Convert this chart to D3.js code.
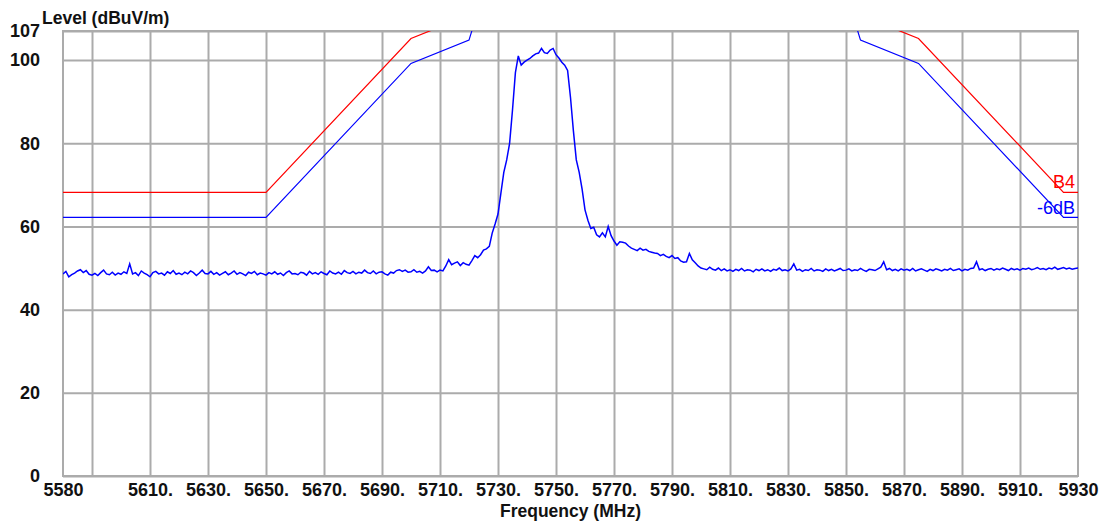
<html>
<head>
<meta charset="utf-8">
<script src="https://d3js.org/d3.v7.min.js"></script>
<style>
    body { margin: 0; background: #fff; }
    text { font-family: "Liberation Sans", Arial, sans-serif; }
    .grid line { stroke: #ababab; stroke-width: 2; }
    .grid .domain { display: none; }
    .lbl text { font-size: 18px; font-weight: bold; fill: #111; }
    .lbl .domain, .lbl line { display: none; }
</style>
</head>
<body>
<div id="chart"></div>
<script>
// measured trace, one value per MHz from 5580 to 5930
var traceStart = 5580;
var traceLevel = [
    48.6, 49.2, 47.9, 48.4, 48.8, 49.3, 49.6, 48.9, 49.4, 48.5,
    48.3, 48.7, 48.2, 48.9, 49.5, 48.6, 48.4, 49.0, 48.3, 48.8,
    48.5, 49.1, 48.7, 51.0, 48.6, 48.9, 48.2, 49.3, 48.8, 48.4,
    47.9, 48.9, 49.2, 48.6, 48.8, 48.3, 49.1, 48.7, 49.4, 48.5,
    48.8, 48.4, 49.0, 48.6, 49.3, 48.9, 48.2, 48.8, 49.5, 48.7,
    48.6, 49.2, 48.5, 48.9, 48.3, 48.7, 49.1, 48.4, 48.8, 49.3,
    48.5, 48.9, 48.6, 48.2, 49.0, 48.7, 49.2, 48.4, 48.8, 48.6,
    48.3, 48.9, 48.6, 49.1, 48.5, 48.8, 48.2, 48.9, 49.3, 48.6,
    48.7, 48.4, 49.0, 48.8, 48.3, 49.2, 48.6, 48.9, 48.5, 49.1,
    48.7, 48.4, 49.3, 48.8, 48.6, 49.0, 48.5, 49.4, 48.9, 48.7,
    49.2, 48.6, 49.0, 48.8, 49.5, 48.9, 48.7, 49.3, 48.6, 49.0,
    49.1, 48.6, 48.3, 49.0, 48.8, 49.4, 49.6, 49.2, 49.5, 49.0,
    49.1, 49.6, 49.0, 49.2, 48.8, 49.3, 50.3, 49.4, 49.5, 49.1,
    49.5, 49.3, 50.5, 52.0, 50.8, 51.2, 51.5, 50.6, 51.3, 50.9,
    50.7, 51.8, 53.0, 52.5, 53.2, 54.3, 54.6, 55.2, 58.4, 60.6,
    63.0, 68.0, 73.0, 76.0, 80.0, 88.0, 97.0, 101.0, 98.8, 99.5,
    100.0, 100.4, 101.0, 101.5, 101.7, 102.8, 101.8, 101.6, 102.4, 102.8,
    101.3, 100.5, 99.5, 98.8, 97.5, 91.0, 83.0, 76.0, 73.0, 69.0,
    64.0, 61.5, 59.5, 59.8, 58.0, 57.5, 58.5, 57.5, 60.0, 57.8,
    56.5, 55.5, 56.3, 56.2, 56.0, 55.3, 54.8, 54.5, 54.2, 54.8,
    54.3, 54.5, 54.0, 53.8, 53.6, 53.5, 53.0, 53.3, 52.8, 52.5,
    53.0, 52.3, 52.5, 51.7, 51.4, 51.5, 53.5, 52.0, 51.3, 50.5,
    50.0, 49.8, 49.6, 50.2, 49.7, 49.5, 50.0, 49.4, 49.8, 49.3,
    49.6, 49.2, 49.7, 49.4, 49.9, 49.3, 49.6, 49.5, 49.1, 49.7,
    49.4, 49.8, 49.3, 49.6, 49.2, 49.7, 49.5, 50.0, 49.4, 49.6,
    49.3, 49.8, 51.0, 49.5, 49.7, 49.2, 49.6, 49.4, 49.9, 49.3,
    49.6, 49.5, 49.2, 49.8, 49.4, 49.7, 49.3, 49.6, 49.9, 49.4,
    49.5, 49.8, 49.3, 49.6, 49.4, 49.9, 49.5, 49.2, 49.7, 49.6,
    49.4, 49.8, 50.2, 51.5, 49.6, 49.9, 49.4, 49.7, 49.3, 49.8,
    49.5, 49.7, 49.4, 49.9, 49.3, 49.6, 49.8, 49.5, 49.2, 49.7,
    49.4, 49.8, 49.6, 49.3, 49.7, 49.5, 49.9, 49.4, 49.6, 49.8,
    49.3, 49.7, 49.5, 49.9, 50.0, 51.5, 49.6, 49.8, 49.4, 49.7,
    49.9, 49.5, 49.8, 49.6, 50.0, 49.7, 49.4, 49.9, 49.6, 49.8,
    49.5, 49.9, 49.7, 50.0, 49.6, 49.8, 50.1, 49.7, 49.9, 49.6,
    50.0, 49.8, 50.2, 49.7, 49.9, 50.1, 49.8, 50.0, 49.7, 49.9,
    50.0
];

// limit lines
var limitFreq = [5580, 5650, 5700, 5720, 5725, 5850, 5855, 5875, 5925, 5930];
var limitB4 = [68.2, 68.2, 105.2, 110.8, 122.2, 122.2, 110.8, 105.2, 68.2, 68.2];
var limit6dB = [62.2, 62.2, 99.2, 104.8, 116.2, 116.2, 104.8, 99.2, 62.2, 62.2];

// axes
var xGrid = [5590, 5610, 5630, 5650, 5670, 5690, 5710, 5730, 5750, 5770, 5790, 5810, 5830, 5850, 5870, 5890, 5910];
var xTicks = [5580, 5610, 5630, 5650, 5670, 5690, 5710, 5730, 5750, 5770, 5790, 5810, 5830, 5850, 5870, 5890, 5910, 5930];
var xTickLabels = ["5580", "5610.", "5630.", "5650.", "5670.", "5690.", "5710.", "5730.", "5750.", "5770.", "5790.", "5810.", "5830.", "5850.", "5870.", "5890.", "5910.", "5930"];
var yTicks = [0, 20, 40, 60, 80, 100, 107];

var W = 1103, H = 524;
var pLeft = 63, pRight = 1078, pTop = 31, pBottom = 476;

var xs = d3.scaleLinear().domain([5580, 5930]).range([pLeft, pRight]);
var ys = d3.scaleLinear().domain([0, 107]).range([pBottom, pTop]);

var svg = d3.select("#chart").append("svg")
    .attr("width", W)
    .attr("height", H);

svg.append("clipPath").attr("id", "clip")
    .append("rect")
    .attr("x", pLeft).attr("y", pTop)
    .attr("width", pRight - pLeft).attr("height", pBottom - pTop);

// grid
svg.append("g").attr("class", "grid")
    .attr("transform", "translate(0," + pBottom + ")")
    .call(d3.axisBottom(xs).tickValues(xGrid).tickSize(-(pBottom - pTop)).tickFormat(""));
svg.append("g").attr("class", "grid")
    .attr("transform", "translate(" + pLeft + ",0)")
    .call(d3.axisLeft(ys).tickValues(yTicks).tickSize(-(pRight - pLeft)).tickFormat(""));
svg.append("rect")
    .attr("x", pLeft).attr("y", pTop)
    .attr("width", pRight - pLeft).attr("height", pBottom - pTop)
    .attr("fill", "none")
    .attr("stroke", "#ababab")
    .attr("stroke-width", 2);

// tick labels
svg.append("g").attr("class", "lbl")
    .attr("transform", "translate(0,483)")
    .call(d3.axisBottom(xs).tickValues(xTicks).tickSize(0).tickPadding(0)
        .tickFormat(function (d, i) { return xTickLabels[i]; }));
svg.append("g").attr("class", "lbl")
    .attr("transform", "translate(40,0)")
    .call(d3.axisLeft(ys).tickValues(yTicks).tickSize(0).tickPadding(0)
        .tickFormat(d3.format("d")));

svg.append("text")
    .attr("x", 42).attr("y", 24)
    .style("font-size", "17.5px").style("font-weight", "bold").attr("fill", "#111")
    .text("Level (dBuV/m)");
svg.append("text")
    .attr("x", (pLeft + pRight) / 2).attr("y", 517)
    .attr("text-anchor", "middle")
    .style("font-size", "17.5px").style("font-weight", "bold").attr("fill", "#111")
    .text("Frequency (MHz)");

var plot = svg.append("g").attr("clip-path", "url(#clip)");

var limitLine = d3.line()
    .x(function (d, i) { return xs(limitFreq[i]); })
    .y(function (d) { return ys(d); });

plot.append("path")
    .datum(limitB4)
    .attr("d", limitLine)
    .attr("fill", "none")
    .attr("stroke", "#ff0000")
    .attr("stroke-width", 1.2);
plot.append("path")
    .datum(limit6dB)
    .attr("d", limitLine)
    .attr("fill", "none")
    .attr("stroke", "#0000ff")
    .attr("stroke-width", 1.2);

var traceLine = d3.line()
    .x(function (d, i) { return xs(traceStart + i); })
    .y(function (d) { return ys(d); });

plot.append("path")
    .datum(traceLevel)
    .attr("d", traceLine)
    .attr("fill", "none")
    .attr("stroke", "#0000ff")
    .attr("stroke-width", 1.5);

// limit names
svg.append("text")
    .attr("x", 1075).attr("y", 188)
    .attr("text-anchor", "end")
    .style("font-size", "18px").attr("fill", "#ff0000")
    .text("B4");
svg.append("text")
    .attr("x", 1075).attr("y", 214)
    .attr("text-anchor", "end")
    .style("font-size", "18px").attr("fill", "#0000ff")
    .text("-6dB");
</script>
</body>
</html>
